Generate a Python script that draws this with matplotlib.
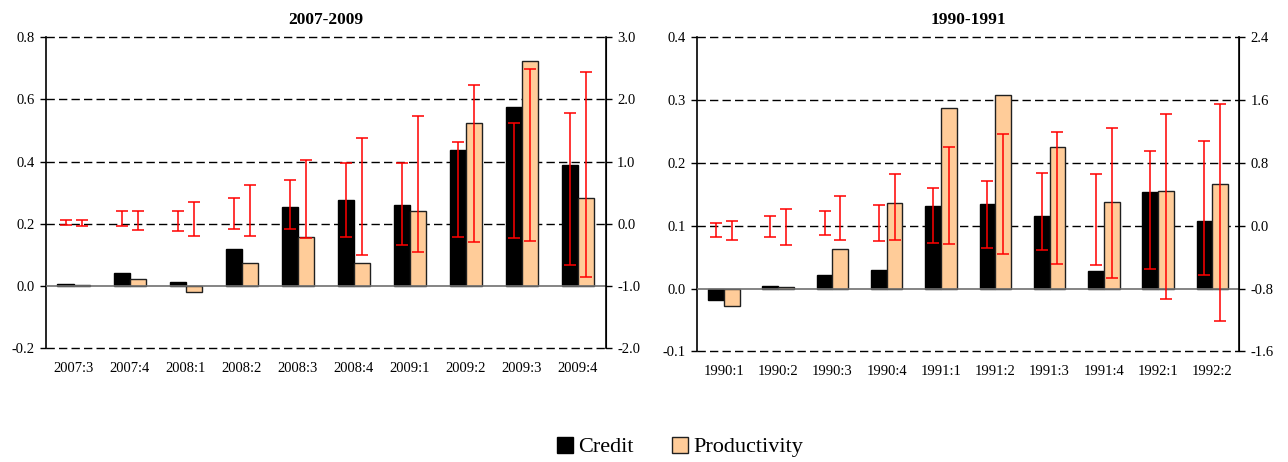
import numpy as np
import matplotlib
matplotlib.use("Agg")
import matplotlib.pyplot as plt
from matplotlib.lines import Line2D

plt.rcParams['font.family'] = ['Liberation Serif', 'DejaVu Serif']

# 2007-2009 episode
QUARTERS_0709 = ['2007:3', '2007:4', '2008:1', '2008:2', '2008:3',
                 '2008:4', '2009:1', '2009:2', '2009:3', '2009:4']
CREDIT_0709 = [0.005, 0.041, 0.013, 0.117, 0.252, 0.276, 0.260, 0.436, 0.576, 0.389]
PROD_0709 = [0.001, 0.020, -0.020, 0.072, 0.156, 0.072, 0.241, 0.523, 0.723, 0.284]
# confidence bands (right-axis units)
CREDIT_LO_0709 = [-0.02, -0.04, -0.12, -0.08, -0.08, -0.22, -0.34, -0.22, -0.24, -0.66]
CREDIT_HI_0709 = [0.05, 0.21, 0.20, 0.42, 0.71, 0.98, 0.98, 1.32, 1.62, 1.79]
PROD_LO_0709 = [-0.04, -0.10, -0.20, -0.20, -0.24, -0.50, -0.46, -0.30, -0.28, -0.86]
PROD_HI_0709 = [0.05, 0.21, 0.35, 0.62, 1.02, 1.38, 1.73, 2.23, 2.49, 2.44]

# 1990-1991 episode
QUARTERS_9091 = ['1990:1', '1990:2', '1990:3', '1990:4', '1991:1',
                 '1991:2', '1991:3', '1991:4', '1992:1', '1992:2']
CREDIT_9091 = [-0.019, 0.004, 0.021, 0.030, 0.132, 0.134, 0.116, 0.028, 0.154, 0.108]
PROD_9091 = [-0.028, 0.002, 0.063, 0.136, 0.288, 0.309, 0.225, 0.138, 0.155, 0.166]
CREDIT_LO_9091 = [-0.14, -0.14, -0.12, -0.20, -0.22, -0.28, -0.31, -0.50, -0.55, -0.63]
CREDIT_HI_9091 = [0.04, 0.12, 0.19, 0.27, 0.48, 0.57, 0.67, 0.66, 0.95, 1.08]
PROD_LO_9091 = [-0.18, -0.25, -0.18, -0.18, -0.23, -0.36, -0.49, -0.66, -0.93, -1.22]
PROD_HI_9091 = [0.06, 0.21, 0.38, 0.66, 1.00, 1.17, 1.19, 1.24, 1.43, 1.55]

TAN = '#FFCC99'
BAR_W = 0.29


def draw_panel(ax, title, labels, credit, prod, c_lo, c_hi, p_lo, p_hi,
               left_ticks, right_ticks):
    x = np.arange(len(labels))
    ax.set_xlim(-0.5, len(labels) - 0.5)
    ax.set_ylim(left_ticks[0], left_ticks[-1])

    # dashed gridlines at every tick, including the frame edges
    for t in left_ticks:
        if abs(t) < 1e-9:
            continue
        ax.axhline(t, color='black', lw=1, linestyle=(0, (6, 3)), zorder=0,
                   clip_on=False)

    ax.bar(x - BAR_W / 2, credit, BAR_W, color='black', edgecolor='black',
           lw=1, zorder=2)
    ax.bar(x + BAR_W / 2, prod, BAR_W, color=TAN, edgecolor='#202020',
           lw=1, zorder=2)
    ax.axhline(0, color='#707070', lw=1.2, zorder=3)

    ax.set_yticks(left_ticks)
    ax.set_yticklabels([f'{t:.1f}' for t in left_ticks])
    ax.set_xticks(x)
    ax.set_xticklabels(labels)
    ax.tick_params(axis='x', length=0, pad=10, labelsize=10.5)
    ax.tick_params(axis='y', length=4, width=1, pad=4, labelsize=10.5,
                   direction='out')
    ax.spines['top'].set_visible(False)
    ax.spines['bottom'].set_visible(False)
    ax.spines['left'].set_linewidth(1.2)
    ax.set_title(title, fontsize=12.5, fontweight='bold', pad=10)

    ax2 = ax.twinx()
    ax2.set_ylim(right_ticks[0], right_ticks[-1])
    ax2.set_yticks(right_ticks)
    ax2.set_yticklabels([f'{t:.1f}' for t in right_ticks])
    ax2.tick_params(axis='y', length=4, width=1, pad=4, labelsize=10.5,
                    direction='out')
    for s in ['top', 'bottom', 'left']:
        ax2.spines[s].set_visible(False)
    ax2.spines['right'].set_linewidth(1.2)

    for xs, lo, hi in [(x - BAR_W / 2, c_lo, c_hi), (x + BAR_W / 2, p_lo, p_hi)]:
        lo = np.array(lo)
        hi = np.array(hi)
        mid = (lo + hi) / 2
        ax2.errorbar(xs, mid, yerr=[mid - lo, hi - mid], fmt='none',
                     ecolor='red', elinewidth=1.3, capsize=4.5, capthick=1.3,
                     alpha=0.85, zorder=4)


def main():
    fig = plt.figure(figsize=(12.88, 4.62), dpi=100)
    ax_a = fig.add_axes([0.0355, 0.2474, 0.435, 0.6716])
    ax_b = fig.add_axes([0.541, 0.2396, 0.4213, 0.6794])

    draw_panel(ax_a, '2007-2009', QUARTERS_0709, CREDIT_0709, PROD_0709,
               CREDIT_LO_0709, CREDIT_HI_0709, PROD_LO_0709, PROD_HI_0709,
               [-0.2, 0.0, 0.2, 0.4, 0.6, 0.8],
               [-2.0, -1.0, 0.0, 1.0, 2.0, 3.0])
    draw_panel(ax_b, '1990-1991', QUARTERS_9091, CREDIT_9091, PROD_9091,
               CREDIT_LO_9091, CREDIT_HI_9091, PROD_LO_9091, PROD_HI_9091,
               [-0.1, 0.0, 0.1, 0.2, 0.3, 0.4],
               [-1.6, -0.8, 0.0, 0.8, 1.6, 2.4])

    handles = [
        Line2D([], [], marker='s', linestyle='none', markersize=11,
               markerfacecolor='black', markeredgecolor='black', label='Credit'),
        Line2D([], [], marker='s', linestyle='none', markersize=11,
               markerfacecolor=TAN, markeredgecolor='#202020', label='Productivity'),
    ]
    fig.legend(handles=handles, loc='center', bbox_to_anchor=(0.527, 0.032),
               ncol=2, frameon=False, fontsize=16, handletextpad=0.1,
               columnspacing=1.6, handlelength=1.0)

    fig.savefig('out.png', dpi=100, facecolor='white')
    plt.close(fig)


if __name__ == "__main__":
    main()
